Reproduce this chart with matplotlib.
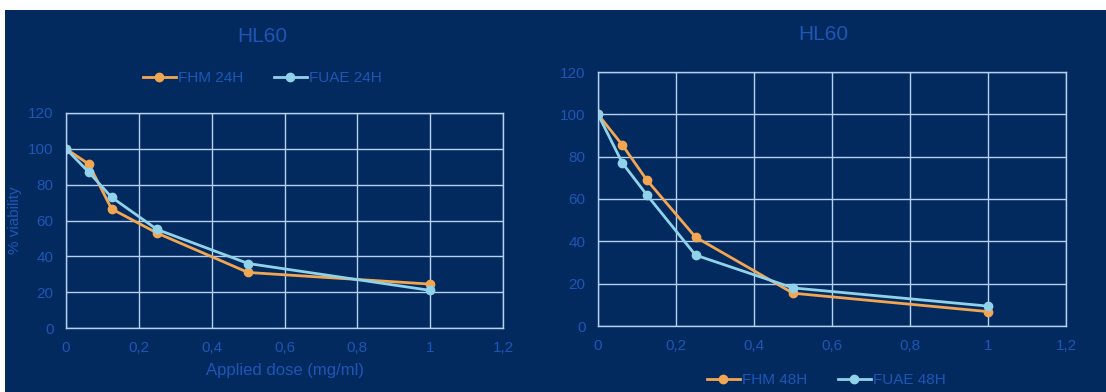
import matplotlib.pyplot as plt
from matplotlib.patches import Rectangle

dose = [0, 0.0625, 0.125, 0.25, 0.5, 1]

fhm_24 = [100, 91.5, 66.5, 53, 31, 24.5]
fuae_24 = [100, 87, 73, 55, 36, 21]
fhm_48 = [100, 85.5, 69, 42, 15.5, 6.8]
fuae_48 = [100, 77, 62, 33.5, 18, 9.4]

xticks = [0, 0.2, 0.4, 0.6, 0.8, 1, 1.2]
xticklabels = ['0', '0,2', '0,4', '0,6', '0,8', '1', '1,2']
yticks = [0, 20, 40, 60, 80, 100, 120]

bg = '#032a5f'
txt = '#1d56b4'
grid_c = '#b4d0f2'
orange = '#f2a652'
lblue = '#8fd2ea'

plt.rcParams['font.family'] = ['Liberation Sans Narrow', 'Liberation Sans', 'DejaVu Sans']

fig = plt.figure(figsize=(11.06, 3.92), dpi=100)
fig.set_facecolor('white')
fig.add_artist(Rectangle((5 / 1106, 0), 1, 382 / 392, transform=fig.transFigure,
                         facecolor=bg, edgecolor='none', zorder=-10))

ax1 = fig.add_axes([66 / 1106, 64 / 392, 437 / 1106, 215 / 392])
ax2 = fig.add_axes([598 / 1106, 66 / 392, 468 / 1106, 254 / 392])


def style(ax):
    ax.set_facecolor(bg)
    ax.set_xlim(0, 1.2)
    ax.set_ylim(0, 120)
    ax.set_xticks(xticks)
    ax.set_xticklabels(xticklabels)
    ax.set_yticks(yticks)
    ax.tick_params(length=0, colors=txt, labelsize=11, pad=9)
    ax.grid(color=grid_c, lw=1)
    ax.set_axisbelow(True)
    for s in ax.spines.values():
        s.set_color(grid_c)
        s.set_linewidth(1)


style(ax1)
style(ax2)

ax1.plot(dose, fhm_24, color=orange, lw=2, marker='o', ms=6, label='FHM 24H')
ax1.plot(dose, fuae_24, color=lblue, lw=2, marker='o', ms=6, label='FUAE 24H')
ax2.plot(dose, fhm_48, color=orange, lw=2, marker='o', ms=6, label='FHM 48H')
ax2.plot(dose, fuae_48, color=lblue, lw=2, marker='o', ms=6, label='FUAE 48H')

ax1.set_ylabel('% viability', color=txt, fontsize=11, labelpad=4)
ax1.set_xlabel('Applied dose (mg/ml)', color=txt, fontsize=12, labelpad=6)

fig.text(262 / 1106, 1 - 36 / 392, 'HL60', color=txt, fontsize=15, ha='center', va='center')
fig.text(823 / 1106, 1 - 35 / 392, 'HL60', color=txt, fontsize=15, ha='center', va='center')

leg1 = ax1.legend(loc='center', bbox_to_anchor=(262 / 1106, 1 - 78 / 392),
                  bbox_transform=fig.transFigure, ncol=2, frameon=False,
                  fontsize=11, handlelength=2.2, handletextpad=0.1, columnspacing=2)
leg2 = ax2.legend(loc='center', bbox_to_anchor=(826 / 1106, 1 - 380 / 392),
                  bbox_transform=fig.transFigure, ncol=2, frameon=False,
                  fontsize=11, handlelength=2.2, handletextpad=0.1, columnspacing=2)
for leg in (leg1, leg2):
    for t in leg.get_texts():
        t.set_color(txt)

fig.savefig('out.png', dpi=100, facecolor=fig.get_facecolor())
